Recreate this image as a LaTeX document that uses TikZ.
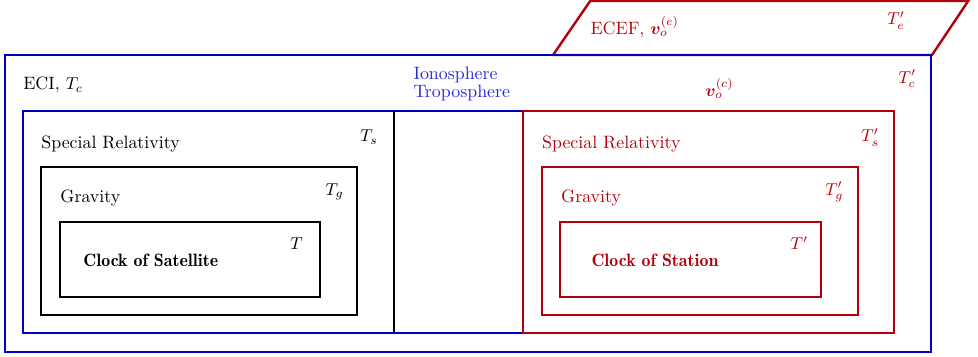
\documentclass[tikz,border=0pt]{standalone}
\usepackage{amsmath,bm}
\definecolor{ecib}{RGB}{0,0,195}
\definecolor{ecef}{RGB}{180,0,10}
\definecolor{atm}{RGB}{40,40,225}
\newcommand{\clk}[1]{{\fontseries{b}\selectfont #1}}
\begin{document}
\begin{tikzpicture}[box/.style={line width=1.4pt},lbl/.style={anchor=base west,inner sep=0pt},
  every node/.style={font=\fontsize{10.4}{12.5}\selectfont}]
\useasboundingbox (0,0) rectangle (20,7.30);
% ECEF frame
\draw[box,ecef] (11.31,6.176) -- (19.06,6.176) -- (19.80,7.28) -- (12.07,7.28) -- cycle;
\node[lbl,ecef] (ecef) at (12.07,6.59) {ECEF, $\bm{v}_o^{(e)}$};
\node[lbl,ecef] (te) at (18.14,6.79) {$T_e'$};
% ECI frame
\draw[box,ecib] (0.10,0.10) rectangle (19.04,6.176);
\node[lbl] (eci) at (0.47,5.46) {ECI, $T_c$};
\node[lbl,ecef] (tc) at (18.37,5.60) {$T_c'$};
\node[lbl,ecef] (vc) at (14.42,5.32) {$\bm{v}_o^{(c)}$};
\node[anchor=north west,inner sep=0pt,align=left,atm] (atmo) at (8.45,5.93) {Ionosphere\\[-2pt]Troposphere};
% satellite side
\draw[box] (0.47,0.49) rectangle (8.06,5.03);
\draw[box,ecib] (0.47,0.49) rectangle (18.28,5.03);
\node[lbl] (srs) at (0.84,4.27) {Special Relativity};
\node[lbl] (ts) at (7.36,4.40) {$T_s$};
\draw[box] (0.84,0.86) rectangle (7.30,3.886);
\node[lbl] (grs) at (1.23,3.15) {Gravity};
\node[lbl] (tg) at (6.65,3.31) {$T_g$};
\draw[box] (1.227,1.227) rectangle (6.544,2.761);
\node[lbl] (sat) at (1.70,1.84) {\clk{Clock of Satellite}};
\node[lbl] (t) at (5.93,2.19) {$T$};
% station side
\draw[box,ecef] (10.70,0.49) rectangle (18.28,5.03);
\node[lbl,ecef] (srr) at (11.08,4.27) {Special Relativity};
\node[lbl,ecef] (tsr) at (17.61,4.40) {$T_s'$};
\draw[box,ecef] (11.08,0.86) rectangle (17.55,3.886);
\node[lbl,ecef] (grr) at (11.47,3.15) {Gravity};
\node[lbl,ecef] (tgr) at (16.87,3.31) {$T_g'$};
\draw[box,ecef] (11.45,1.227) rectangle (16.79,2.761);
\node[lbl,ecef] (sta) at (12.09,1.84) {\clk{Clock of Station}};
\node[lbl,ecef] (tr) at (16.16,2.19) {$T'$};
\end{tikzpicture}
\end{document}
